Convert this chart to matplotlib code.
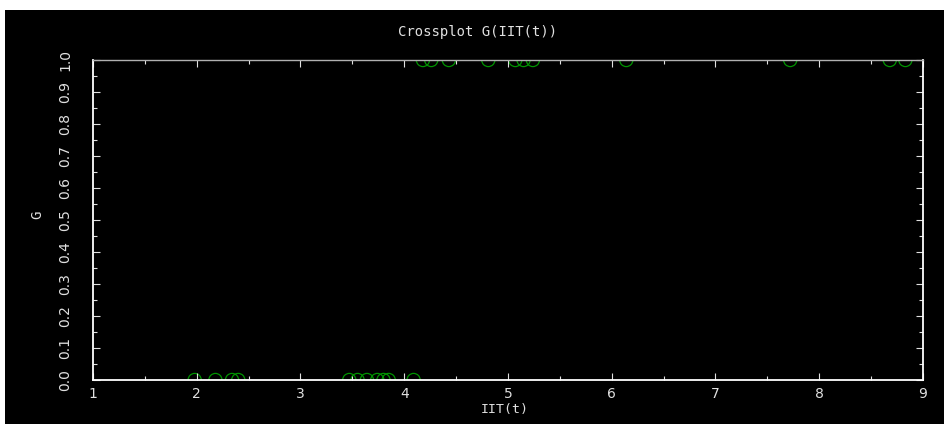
import matplotlib
matplotlib.use("Agg")
import matplotlib.pyplot as plt
from matplotlib.patches import Rectangle
from matplotlib.ticker import MultipleLocator

# Data
iit_g0 = [1.98, 2.18, 2.34, 2.40, 3.47, 3.55, 3.64, 3.74, 3.80, 3.85, 4.09]
g0 = [0.0] * len(iit_g0)
iit_g1 = [4.18, 4.26, 4.43, 4.81, 5.07, 5.15, 5.24, 6.14, 7.72, 8.68, 8.83]
g1 = [1.0] * len(iit_g1)

title = "Crossplot G(IIT(t))"
xlabel = "IIT(t)"
ylabel = "G"
xticks = [1, 2, 3, 4, 5, 6, 7, 8, 9]
yticks = [0.0, 0.1, 0.2, 0.3, 0.4, 0.5, 0.6, 0.7, 0.8, 0.9, 1.0]

W, H = 948, 429
fig = plt.figure(figsize=(W / 100, H / 100), dpi=100, facecolor="white")
# black panel
fig.patches.append(Rectangle((5 / W, 5 / H), 939 / W, 414 / H,
                             transform=fig.transFigure, facecolor="black",
                             edgecolor="none", zorder=-10))

ax = fig.add_axes([93 / W, 1 - 380 / H, 830 / W, 320 / H])
ax.set_facecolor("black")

green = "#009400"
clip_rect = Rectangle((0, 0), 1, 1, transform=ax.transAxes,
                      facecolor="none", edgecolor="none")
for xs, ys in [(iit_g0, g0), (iit_g1, g1)]:
    sc = ax.scatter(xs, ys, s=9.5 ** 2, marker="o", facecolors="none",
                    edgecolors=green, linewidths=0.9, zorder=1)
    sc.set_clip_path(clip_rect)

ax.set_xlim(1, 9)
ax.set_ylim(0, 1)
ax.set_xticks(xticks)
ax.set_xticklabels([str(v) for v in xticks])
ax.set_yticks(yticks)
ax.set_yticklabels([f"{v:.1f}" for v in yticks], rotation=90, va="center")
ax.xaxis.set_minor_locator(MultipleLocator(0.5))
ax.yaxis.set_minor_locator(MultipleLocator(0.05))

txtc = "#e0e0e0"
ax.tick_params(axis="both", which="both", direction="in", colors=txtc,
               top=True, right=True, labelsize=10)
ax.tick_params(axis="both", which="major", length=5, width=0.8)
ax.tick_params(axis="both", which="minor", length=3, width=0.8)
ax.tick_params(axis="x", which="major", pad=5)
ax.tick_params(axis="y", which="major", pad=15)

for s in ["left", "bottom", "right"]:
    ax.spines[s].set_color("white")
    ax.spines[s].set_linewidth(1.3)
ax.spines["top"].set_color("#b0b0b0")
ax.spines["top"].set_linewidth(1.0)
for sp in ax.spines.values():
    sp.set_zorder(3)

fig.text(478 / W, 1 - 32 / H, title, color=txtc, fontsize=10,
         family="DejaVu Sans Mono", ha="center", va="center")
fig.text(505 / W, 1 - 410 / H, xlabel, color=txtc, fontsize=9.5,
         family="DejaVu Sans Mono", ha="center", va="center")
fig.text(37 / W, 1 - 215 / H, ylabel, color=txtc, fontsize=10,
         family="DejaVu Sans Mono", ha="center", va="center", rotation=90)

fig.savefig("out.png", dpi=100, facecolor="white")
